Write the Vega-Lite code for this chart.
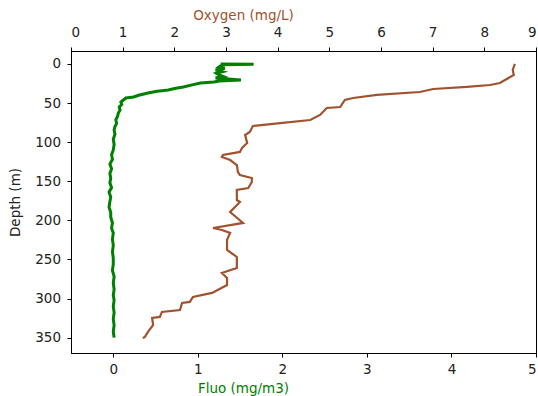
{
  "$schema": "https://vega.github.io/schema/vega-lite/v6.json",
  "width": 465,
  "height": 302,
  "autosize": {"type": "none"},
  "padding": {"left": 71, "top": 51, "right": 2, "bottom": 43},
  "background": "white",
  "config": {
    "view": {"stroke": "black", "strokeWidth": 1},
    "axis": {
      "grid": false,
      "domainColor": "black",
      "tickColor": "black",
      "tickSize": 4,
      "labelFont": "DejaVu Sans",
      "titleFont": "DejaVu Sans",
      "labelFontSize": 13.5,
      "titleFontSize": 13.5,
      "titleFontWeight": "normal",
      "labelColor": "#222",
      "titleColor": "#222",
      "labelPadding": 5
    }
  },
  "layer": [
    {
      "data": {"name": "fluo"},
      "mark": {"type": "line", "color": "green", "strokeWidth": 3, "clip": true},
      "encoding": {
        "x": {
          "field": "value", "type": "quantitative",
          "scale": {"domain": [-0.5, 5], "nice": false, "zero": false},
          "axis": {"orient": "bottom", "title": "Fluo (mg/m3)", "titleColor": "green", "values": [0, 1, 2, 3, 4, 5], "titlePadding": 6, "titleX": 172}
        },
        "y": {
          "field": "depth", "type": "quantitative",
          "scale": {"domain": [-16.6, 369.6], "reverse": true, "nice": false, "zero": false},
          "axis": {"title": "Depth (m)", "values": [0, 50, 100, 150, 200, 250, 300, 350], "labelPadding": 6.5, "titlePadding": 12}
        },
        "order": {"field": "depth", "type": "quantitative"}
      }
    },
    {
      "data": {"name": "oxy"},
      "mark": {"type": "line", "color": "#a0522d", "strokeWidth": 2.2, "clip": true},
      "encoding": {
        "x": {
          "field": "value", "type": "quantitative",
          "scale": {"domain": [0, 9], "nice": false, "zero": false},
          "axis": {"orient": "top", "title": "Oxygen (mg/L)", "titleColor": "#a0522d", "values": [0, 1, 2, 3, 4, 5, 6, 7, 8, 9], "labelPadding": 8, "titlePadding": 3, "titleX": 172}
        },
        "y": {
          "field": "depth", "type": "quantitative",
          "scale": {"domain": [-16.6, 369.6], "reverse": true, "nice": false, "zero": false},
          "axis": {"title": "Depth (m)", "values": [0, 50, 100, 150, 200, 250, 300, 350], "labelPadding": 6.5, "titlePadding": 12}
        },
        "order": {"field": "depth", "type": "quantitative"}
      }
    }
  ],
  "resolve": {"scale": {"x": "independent"}},
  "datasets": {
    "fluo": [
      {"depth": 0, "value": 1.27}, {"depth": 0.5, "value": 1.66}, {"depth": 1, "value": 1.29},
      {"depth": 3.8, "value": 1.25}, {"depth": 5.5, "value": 1.32}, {"depth": 7.7, "value": 1.21},
      {"depth": 10, "value": 1.29}, {"depth": 12, "value": 1.22}, {"depth": 14, "value": 1.25},
      {"depth": 16, "value": 1.30}, {"depth": 18, "value": 1.21}, {"depth": 20.5, "value": 1.51},
      {"depth": 21.7, "value": 1.25}, {"depth": 23, "value": 1.19}, {"depth": 24.3, "value": 1.03},
      {"depth": 27, "value": 0.92}, {"depth": 29.4, "value": 0.83}, {"depth": 31, "value": 0.74},
      {"depth": 33.2, "value": 0.65}, {"depth": 35, "value": 0.52}, {"depth": 37.1, "value": 0.41},
      {"depth": 40, "value": 0.30}, {"depth": 42.2, "value": 0.24}, {"depth": 43.5, "value": 0.15},
      {"depth": 46, "value": 0.12}, {"depth": 48.6, "value": 0.09}, {"depth": 52, "value": 0.10},
      {"depth": 55, "value": 0.07}, {"depth": 59, "value": 0.08}, {"depth": 62.7, "value": 0.06},
      {"depth": 67, "value": 0.05}, {"depth": 71.6, "value": 0.03}, {"depth": 76, "value": 0.04},
      {"depth": 80, "value": 0.02}, {"depth": 84.4, "value": 0.01}, {"depth": 90, "value": 0.02},
      {"depth": 96, "value": 0.00}, {"depth": 103, "value": 0.01}, {"depth": 110, "value": 0.00},
      {"depth": 116, "value": -0.02}, {"depth": 122, "value": -0.01}, {"depth": 128, "value": -0.04},
      {"depth": 134, "value": -0.02}, {"depth": 140, "value": -0.04}, {"depth": 146, "value": -0.03},
      {"depth": 152, "value": -0.04}, {"depth": 158, "value": -0.02}, {"depth": 164, "value": -0.05},
      {"depth": 170, "value": -0.03}, {"depth": 176, "value": -0.04}, {"depth": 183, "value": -0.05},
      {"depth": 190, "value": -0.03}, {"depth": 196, "value": -0.03}, {"depth": 203, "value": -0.01},
      {"depth": 210, "value": -0.02}, {"depth": 216, "value": 0.00}, {"depth": 224, "value": -0.01},
      {"depth": 232, "value": 0.00}, {"depth": 240, "value": -0.01}, {"depth": 248, "value": 0.00},
      {"depth": 256, "value": 0.00}, {"depth": 264, "value": -0.01}, {"depth": 272, "value": 0.01},
      {"depth": 280, "value": 0.00}, {"depth": 288, "value": 0.01}, {"depth": 296, "value": 0.00},
      {"depth": 302, "value": 0.01}, {"depth": 310, "value": 0.00}, {"depth": 318, "value": 0.01},
      {"depth": 326, "value": 0.00}, {"depth": 334, "value": 0.01}, {"depth": 342, "value": 0.00},
      {"depth": 350, "value": 0.01}
    ],
    "oxy": [
      {"depth": 0, "value": 8.59}, {"depth": 7.7, "value": 8.55}, {"depth": 14, "value": 8.57},
      {"depth": 20.5, "value": 8.40}, {"depth": 24.3, "value": 8.30}, {"depth": 26.9, "value": 8.11},
      {"depth": 29.4, "value": 7.66}, {"depth": 32, "value": 7.01}, {"depth": 35.8, "value": 6.75},
      {"depth": 39.6, "value": 5.92}, {"depth": 43.5, "value": 5.46}, {"depth": 46, "value": 5.30},
      {"depth": 55, "value": 5.21}, {"depth": 56.3, "value": 4.95}, {"depth": 65.2, "value": 4.82},
      {"depth": 71.6, "value": 4.63}, {"depth": 76.7, "value": 3.91}, {"depth": 79.3, "value": 3.52},
      {"depth": 87, "value": 3.46}, {"depth": 90.8, "value": 3.37}, {"depth": 101, "value": 3.41},
      {"depth": 107.4, "value": 3.31}, {"depth": 112.5, "value": 3.27}, {"depth": 116.4, "value": 2.94},
      {"depth": 118.9, "value": 2.92}, {"depth": 122.8, "value": 3.08}, {"depth": 129.2, "value": 3.21},
      {"depth": 138.1, "value": 3.23}, {"depth": 142, "value": 3.27}, {"depth": 145.8, "value": 3.50},
      {"depth": 150.9, "value": 3.50}, {"depth": 158.6, "value": 3.43}, {"depth": 161, "value": 3.21},
      {"depth": 174, "value": 3.21}, {"depth": 176.5, "value": 3.27}, {"depth": 189.3, "value": 3.08},
      {"depth": 203.3, "value": 3.33}, {"depth": 209.7, "value": 2.75}, {"depth": 212.3, "value": 2.92},
      {"depth": 216.1, "value": 3.08}, {"depth": 225, "value": 3.02}, {"depth": 237.9, "value": 3.02},
      {"depth": 246.8, "value": 3.21}, {"depth": 260.9, "value": 3.21}, {"depth": 267.3, "value": 2.92},
      {"depth": 273.7, "value": 3.02}, {"depth": 282.6, "value": 3.02}, {"depth": 292.8, "value": 2.73},
      {"depth": 298, "value": 2.36}, {"depth": 304.3, "value": 2.30}, {"depth": 305.6, "value": 2.15},
      {"depth": 314.6, "value": 2.11}, {"depth": 317.1, "value": 1.76}, {"depth": 323.5, "value": 1.72},
      {"depth": 324.8, "value": 1.57}, {"depth": 333.8, "value": 1.59}, {"depth": 342.7, "value": 1.49},
      {"depth": 349, "value": 1.43}, {"depth": 350.4, "value": 1.39}
    ]
  }
}
